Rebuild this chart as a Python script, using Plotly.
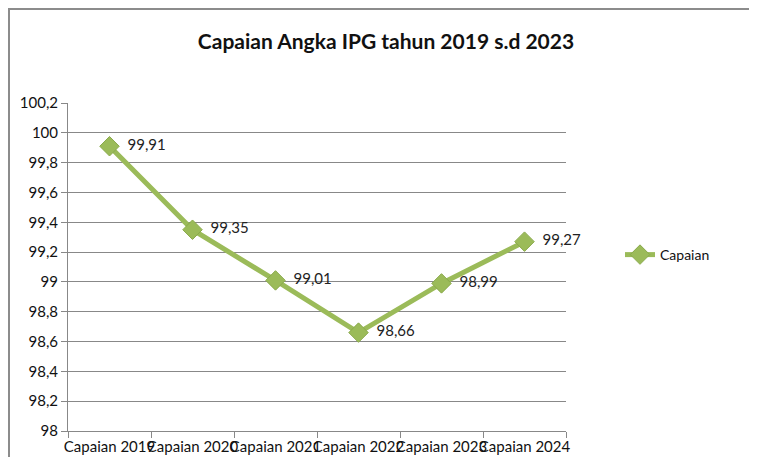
import plotly.graph_objects as go

categories = ["Capaian 2019", "Capaian 2020", "Capaian 2021", "Capaian 2022", "Capaian 2023", "Capaian 2024"]
values = [99.91, 99.35, 99.01, 98.66, 98.99, 99.27]
value_labels = ["99,91", "99,35", "99,01", "98,66", "98,99", "99,27"]
series_name = "Capaian"
title_text = "Capaian Angka IPG tahun 2019 s.d 2023"

FONT = "Lato, Open Sans, sans-serif"
GREEN = "#9BBB59"

# figure placed at page offset (8,8) by default body margin
W, H = 749, 449
L, T, R, B = 60, 95, 191, 26
PW = W - L - R
PH = H - T - B

fig = go.Figure()
fig.add_trace(go.Scatter(
    x=categories, y=values, name=series_name,
    mode="lines+markers+text",
    line=dict(color=GREEN, width=5),
    marker=dict(symbol="diamond", size=15, color=GREEN, line=dict(color="#8AAA4C", width=1)),
    text=["  " + t for t in value_labels], textposition="middle right",
    textfont=dict(family=FONT, size=15, color="#222"),
    cliponaxis=False,
))

fig.update_layout(
    width=W, height=H,
    margin=dict(l=L, r=R, t=T, b=B, autoexpand=False),
    paper_bgcolor="white", plot_bgcolor="white",
    separators=",.",
    title=dict(text="<b>" + title_text + "</b>", x=(386 - 8) / W, xanchor="center",
               y=1 - (42 - 8) / H, yanchor="middle",
               font=dict(family=FONT, size=21, color="#111")),
    font=dict(family=FONT, size=14, color="#222"),
    showlegend=True,
    legend=dict(x=(620 - 8 - L) / PW, y=1 - (255 - 8 - T) / PH, xanchor="left", yanchor="middle",
                font=dict(family=FONT, size=14, color="#111"),
                bgcolor="rgba(0,0,0,0)", itemwidth=30),
    xaxis=dict(showgrid=False, showline=True, linecolor="#888", linewidth=1,
               ticks="outside", tickson="boundaries", ticklen=6, tickcolor="#888",
               tickangle=0, tickfont=dict(family=FONT, size=15, color="#111"),
               ticklabelstandoff=2, range=[-0.5, 5.5]),
    yaxis=dict(range=[98, 100.2], dtick=0.2, tick0=98, showgrid=True, gridcolor="#888",
               gridwidth=1, showline=True, linecolor="#888", ticks="outside", ticklen=6,
               tickcolor="#888", tickfont=dict(family=FONT, size=15, color="#111"),
               zeroline=False),
)

fig.add_shape(type="rect", xref="paper", yref="paper",
              x0=-(L - 1) / PW, y0=-0.5, x1=1.6, y1=1 + (T - 1) / PH,
              line=dict(color="#8C8C8C", width=2), fillcolor="rgba(0,0,0,0)", layer="below")

fig.write_html("out.html")
